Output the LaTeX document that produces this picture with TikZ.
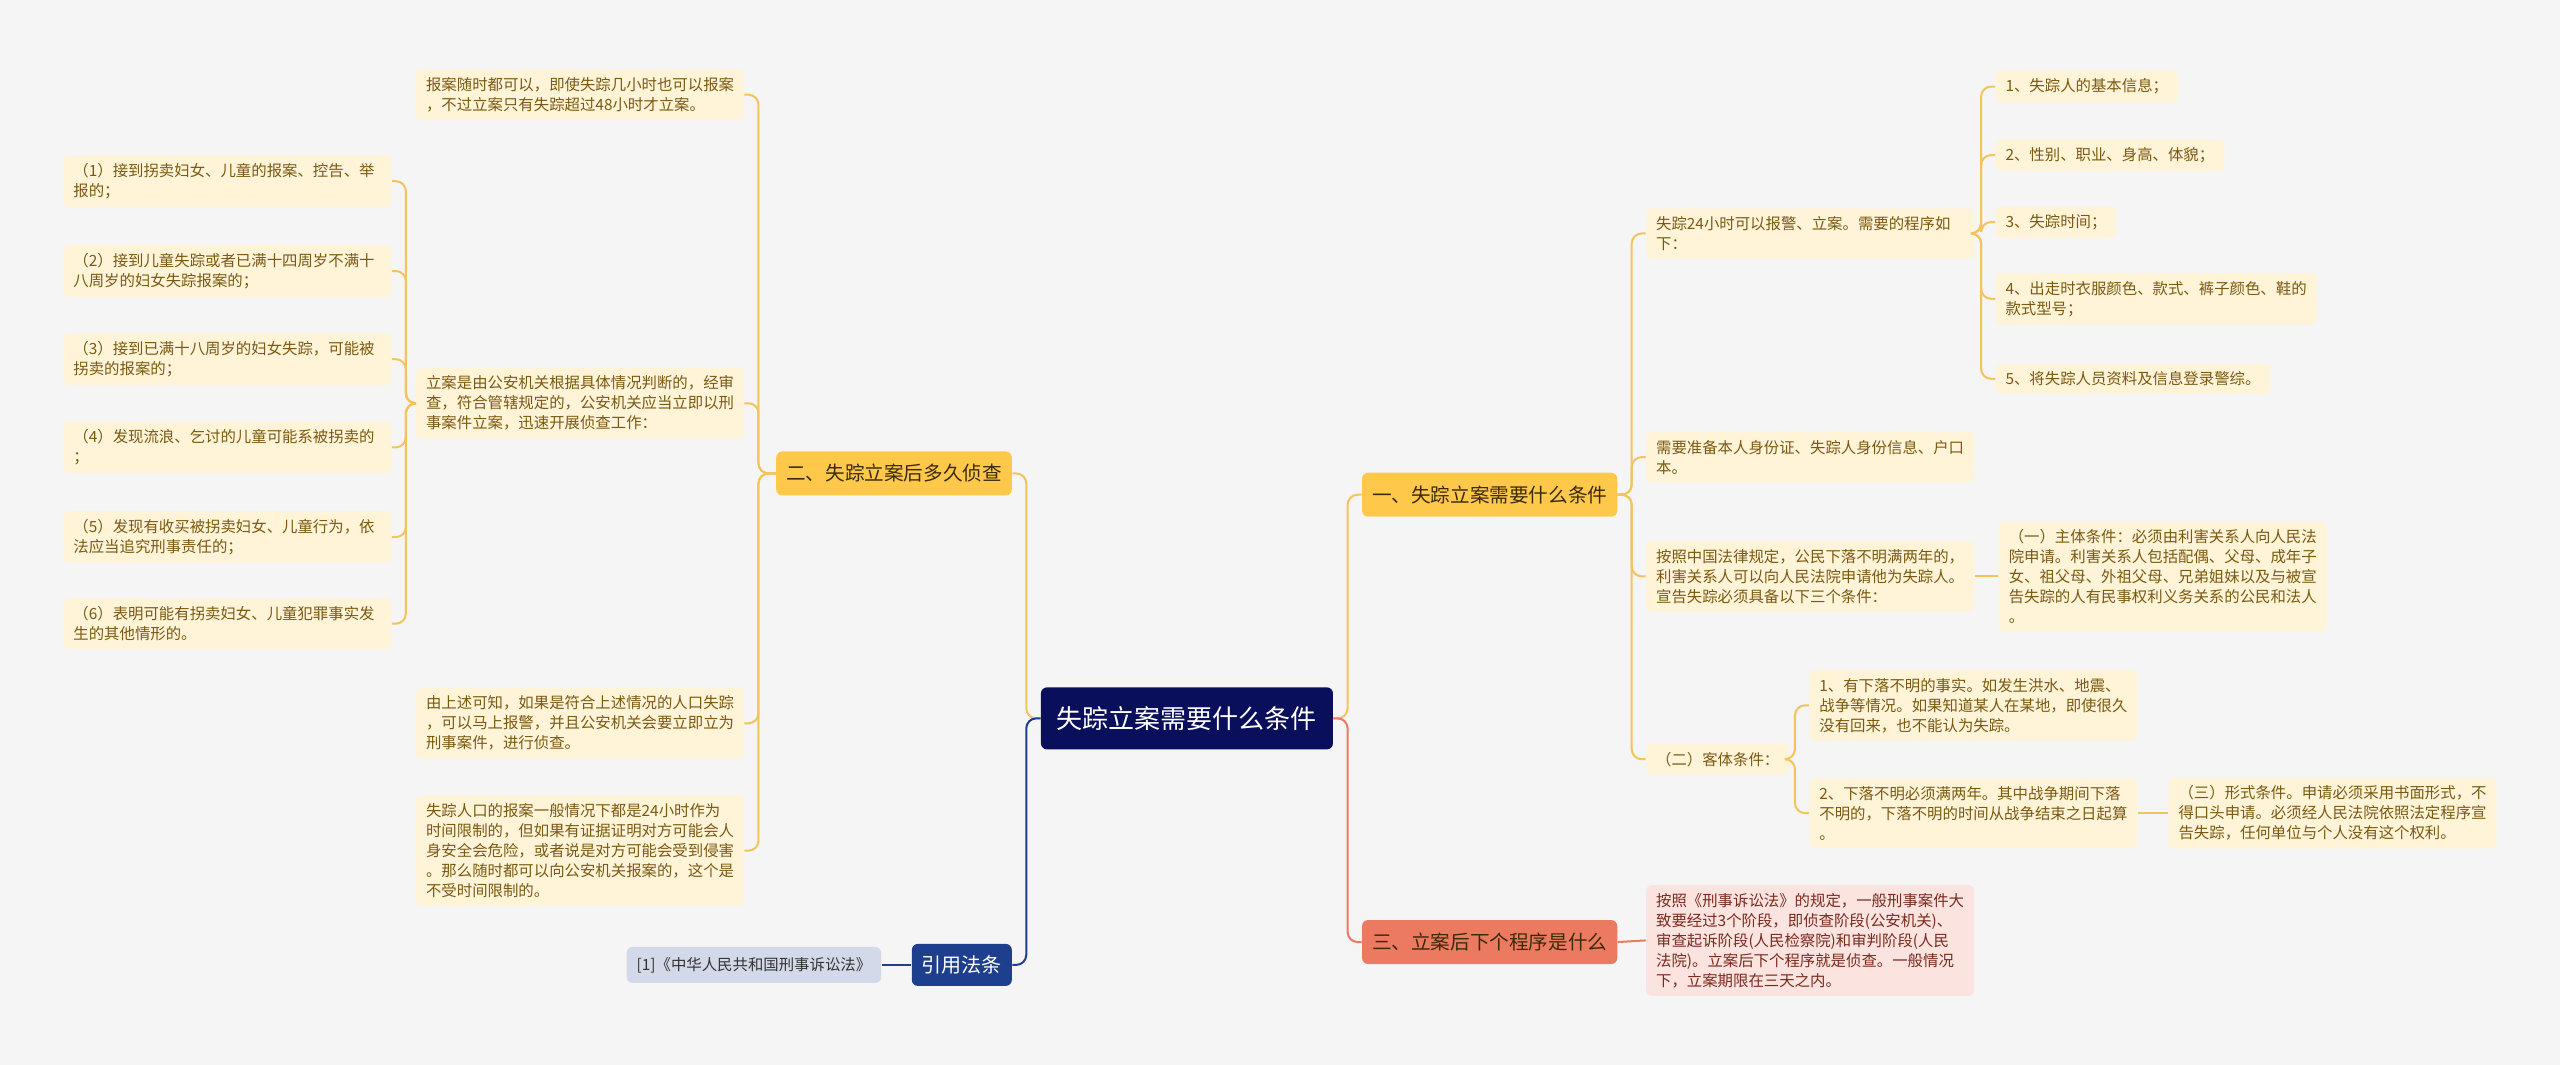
\documentclass[tikz,border=0pt]{standalone}
\usepackage{fontspec}
\setmainfont{Noto Sans CJK SC}
\usetikzlibrary{positioning, calc}
\definecolor{bgcol}{HTML}{F5F5F5}
\definecolor{rootcol}{HTML}{0A0F5C}
\definecolor{orangecol}{HTML}{FEC94B}
\definecolor{maintext}{HTML}{3B2A0A}
\definecolor{leafcol}{HTML}{FFF3D8}
\definecolor{leaftext}{HTML}{7A5A12}
\definecolor{olinecol}{HTML}{F3C45C}
\definecolor{redcol}{HTML}{EC7A60}
\definecolor{pinkcol}{HTML}{FBE3DF}
\definecolor{pinktext}{HTML}{7A2A1E}
\definecolor{navycol}{HTML}{1E3F8E}
\definecolor{citecol}{HTML}{D3D9E8}
\tikzset{
  rootbox/.style={fill=rootcol, text=white, rounded corners=3pt, minimum height=31pt, inner xsep=8pt, font=\fontsize{13pt}{15pt}\selectfont},
  mainbox/.style={fill=orangecol, text=maintext, rounded corners=3pt, minimum height=22pt, inner xsep=5pt, font=\fontsize{9.8pt}{12pt}\selectfont},
  redbox/.style={mainbox, fill=redcol},
  navybox/.style={fill=navycol, text=white, rounded corners=3pt, minimum height=21pt, inner xsep=5pt, font=\fontsize{10pt}{12pt}\selectfont},
  citebox/.style={fill=citecol, text=black!80, rounded corners=3pt, minimum height=18pt, inner xsep=5pt, font=\fontsize{7.7pt}{10pt}\selectfont},
  leaf/.style={fill=leafcol, text=leaftext, rounded corners=3pt, inner xsep=5pt, inner ysep=4pt, align=left, font=\fontsize{7.7pt}{10pt}\selectfont},
  wideleaf/.style={leaf, text width=154pt},
  pinkleaf/.style={wideleaf, fill=pinkcol, text=pinktext},
  oline/.style={draw=olinecol, line width=1pt, rounded corners=5pt},
  rline/.style={oline, draw=redcol},
  nline/.style={oline, draw=navycol}
}

\begin{document}
\begin{tikzpicture}[x=0.8163pt, y=-0.8163pt]
  \fill[bgcol] (0,0) rectangle (1568,652);
  \node[rootbox] (root) at (727,440) {失踪立案需要什么条件};

  % left half
  \node[mainbox, anchor=east] (er) at (620,290) {二、失踪立案后多久侦查};
  \node[navybox, anchor=east] (yinyong) at (620,591) {引用法条};
  \node[citebox, anchor=east] (fa) at (540,591) {[1]《中华人民共和国刑事诉讼法》};
  \node[wideleaf, anchor=east] (suishi) at (456,58) {报案随时都可以，即使失踪几小时也可以报案\\，不过立案只有失踪超过48小时才立案。};
  \node[wideleaf, anchor=east] (lian) at (456,247) {立案是由公安机关根据具体情况判断的，经审\\查，符合管辖规定的，公安机关应当立即以刑\\事案件立案，迅速开展侦查工作：};
  \node[wideleaf, anchor=east] (kezhi) at (456,443) {由上述可知，如果是符合上述情况的人口失踪\\，可以马上报警，并且公安机关会要立即立为\\刑事案件，进行侦查。};
  \node[wideleaf, anchor=east] (renkou) at (456,521) {失踪人口的报案一般情况下都是24小时作为\\时间限制的，但如果有证据证明对方可能会人\\身安全会危险，或者说是对方可能会受到侵害\\。那么随时都可以向公安机关报案的，这个是\\不受时间限制的。};
  \node[wideleaf, anchor=east] (q1) at (240,111) {（1）接到拐卖妇女、儿童的报案、控告、举\\报的；};
  \node[wideleaf, anchor=east] (q2) at (240,166) {（2）接到儿童失踪或者已满十四周岁不满十\\八周岁的妇女失踪报案的；};
  \node[wideleaf, anchor=east] (q3) at (240,220) {（3）接到已满十八周岁的妇女失踪，可能被\\拐卖的报案的；};
  \node[wideleaf, anchor=east] (q4) at (240,274) {（4）发现流浪、乞讨的儿童可能系被拐卖的\\；};
  \node[wideleaf, anchor=east] (q5) at (240,329) {（5）发现有收买被拐卖妇女、儿童行为，依\\法应当追究刑事责任的；};
  \node[wideleaf, anchor=east] (q6) at (240,382) {（6）表明可能有拐卖妇女、儿童犯罪事实发\\生的其他情形的。};

  % right half
  \node[mainbox, anchor=west] (yi) at (834,303) {一、失踪立案需要什么条件};
  \node[redbox, anchor=west] (san) at (834,577) {三、立案后下个程序是什么};
  \node[wideleaf, anchor=west] (baojing) at (1008,143) {失踪24小时可以报警、立案。需要的程序如\\下：};
  \node[leaf, anchor=west] (s1) at (1222,53) {1、失踪人的基本信息；};
  \node[leaf, anchor=west] (s2) at (1222,95) {2、性别、职业、身高、体貌；};
  \node[leaf, anchor=west] (s3) at (1222,136) {3、失踪时间；};
  \node[leaf, anchor=west] (s4) at (1222,183) {4、出走时衣服颜色、款式、裤子颜色、鞋的\\款式型号；};
  \node[leaf, anchor=west] (s5) at (1222,232) {5、将失踪人员资料及信息登录警综。};
  \node[wideleaf, anchor=west] (zhunbei) at (1008,280) {需要准备本人身份证、失踪人身份信息、户口\\本。};
  \node[wideleaf, anchor=west] (guiding) at (1008,353) {按照中国法律规定，公民下落不明满两年的，\\利害关系人可以向人民法院申请他为失踪人。\\宣告失踪必须具备以下三个条件：};
  \node[wideleaf, anchor=west] (zhuti) at (1224,353) {（一）主体条件：必须由利害关系人向人民法\\院申请。利害关系人包括配偶、父母、成年子\\女、祖父母、外祖父母、兄弟姐妹以及与被宣\\告失踪的人有民事权利义务关系的公民和法人\\。};
  \node[leaf, anchor=west] (keti) at (1008,465) {（二）客体条件：};
  \node[wideleaf, anchor=west] (k1) at (1108,432) {1、有下落不明的事实。如发生洪水、地震、\\战争等情况。如果知道某人在某地，即使很久\\没有回来，也不能认为失踪。};
  \node[wideleaf, anchor=west] (k2) at (1108,498) {2、下落不明必须满两年。其中战争期间下落\\不明的，下落不明的时间从战争结束之日起算\\。};
  \node[wideleaf, anchor=west] (xingshi) at (1328,498) {（三）形式条件。申请必须采用书面形式，不\\得口头申请。必须经人民法院依照法定程序宣\\告失踪，任何单位与个人没有这个权利。};
  \node[pinkleaf, anchor=west] (susong) at (1008,576) {按照《刑事诉讼法》的规定，一般刑事案件大\\致要经过3个阶段，即侦查阶段(公安机关)、\\审查起诉阶段(人民检察院)和审判阶段(人民\\法院)。立案后下个程序就是侦查。一般情况\\下，立案期限在三天之内。};

  % connectors
  \draw[oline] (root.west) -| ([xshift=7pt]er.east) -- (er.east);
  \draw[nline] (root.west) -| ([xshift=7pt]yinyong.east) -- (yinyong.east);
  \draw[nline] (yinyong.west) -- (fa.east);
  \draw[oline] (er.west) -| ([xshift=7pt]suishi.east) -- (suishi.east);
  \draw[oline] (er.west) -| ([xshift=7pt]lian.east) -- (lian.east);
  \draw[oline] (er.west) -| ([xshift=7pt]kezhi.east) -- (kezhi.east);
  \draw[oline] (er.west) -| ([xshift=7pt]renkou.east) -- (renkou.east);
  \draw[oline] (lian.west) -| ([xshift=7pt]q1.east) -- (q1.east);
  \draw[oline] (lian.west) -| ([xshift=7pt]q2.east) -- (q2.east);
  \draw[oline] (lian.west) -| ([xshift=7pt]q3.east) -- (q3.east);
  \draw[oline] (lian.west) -| ([xshift=7pt]q4.east) -- (q4.east);
  \draw[oline] (lian.west) -| ([xshift=7pt]q5.east) -- (q5.east);
  \draw[oline] (lian.west) -| ([xshift=7pt]q6.east) -- (q6.east);

  \draw[oline] (root.east) -| ([xshift=-7pt]yi.west) -- (yi.west);
  \draw[rline] (root.east) -| ([xshift=-7pt]san.west) -- (san.west);
  \draw[rline] (san.east) -- (susong.west);
  \draw[oline] (yi.east) -| ([xshift=-7pt]baojing.west) -- (baojing.west);
  \draw[oline] (yi.east) -| ([xshift=-7pt]zhunbei.west) -- (zhunbei.west);
  \draw[oline] (yi.east) -| ([xshift=-7pt]guiding.west) -- (guiding.west);
  \draw[oline] (yi.east) -| ([xshift=-7pt]keti.west) -- (keti.west);
  \draw[oline] (baojing.east) -| ([xshift=-7pt]s1.west) -- (s1.west);
  \draw[oline] (baojing.east) -| ([xshift=-7pt]s2.west) -- (s2.west);
  \draw[oline] (baojing.east) -| ([xshift=-7pt]s3.west) -- (s3.west);
  \draw[oline] (baojing.east) -| ([xshift=-7pt]s4.west) -- (s4.west);
  \draw[oline] (baojing.east) -| ([xshift=-7pt]s5.west) -- (s5.west);
  \draw[oline] (guiding.east) -- (zhuti.west);
  \draw[oline] (keti.east) -| ([xshift=-7pt]k1.west) -- (k1.west);
  \draw[oline] (keti.east) -| ([xshift=-7pt]k2.west) -- (k2.west);
  \draw[oline] (k2.east) -- (xingshi.west);
\end{tikzpicture}
\end{document}
